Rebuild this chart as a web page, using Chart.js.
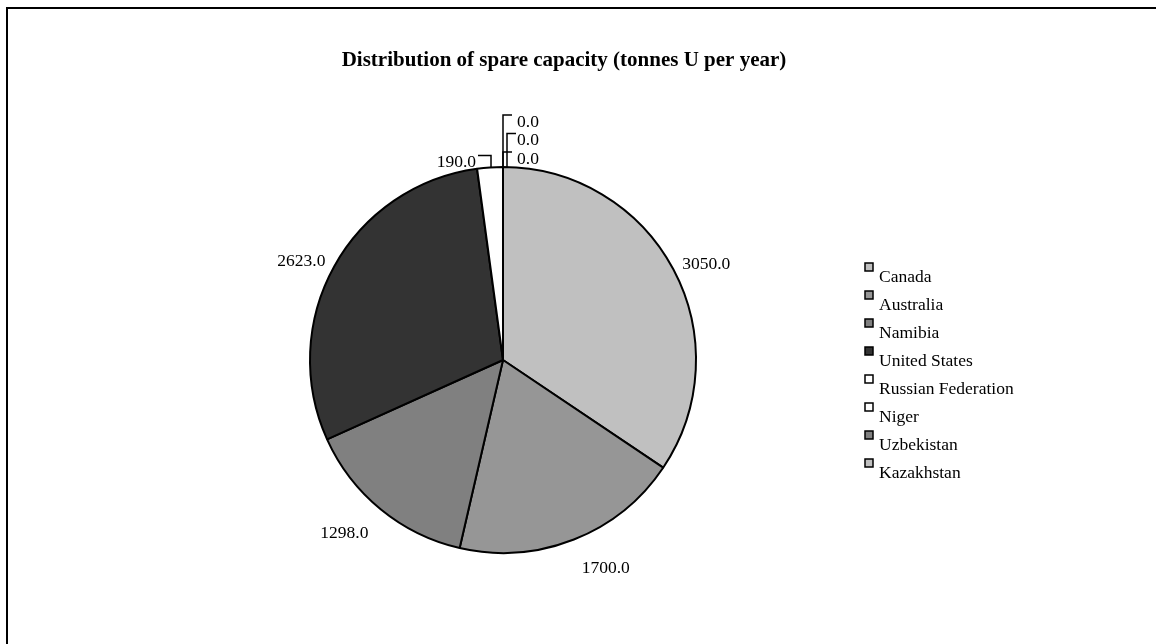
<!DOCTYPE html>
<html>
<head>
<meta charset="utf-8">
<title>Distribution of spare capacity</title>
<script src="https://cdn.jsdelivr.net/npm/chart.js@4.4.1/dist/chart.umd.min.js"></script>
<style>
  html, body { margin: 0; padding: 0; background: #fff; }
  #wrap { position: relative; width: 1156px; height: 644px; overflow: hidden; }
  #frame { position: absolute; left: 6px; top: 7px; width: 1300px; height: 800px;
           border-top: 2px solid #000; border-left: 2px solid #000; pointer-events: none; }
</style>
</head>
<body>
<div id="wrap">
  <canvas id="pie" width="1156" height="644"></canvas>
  <div id="frame"></div>
</div>
<script>
// spare capacity by country, tonnes U per year
const countries = ['Canada', 'Australia', 'Namibia', 'United States', 'Russian Federation', 'Niger', 'Uzbekistan', 'Kazakhstan'];
const capacity = [3050, 1700, 1298, 2623, 190, 0, 0, 0];
const sliceColours = ['#c0c0c0', '#969696', '#808080', '#333333', '#ffffff', '#ffffff', '#808080', '#c0c0c0'];

const serif = '"Liberation Serif", "Times New Roman", serif';

// values outside the pie, small slices get a leader line
const sliceLabels = {
  id: 'sliceLabels',
  afterDatasetsDraw(chart) {
    const ctx = chart.ctx;
    const arcs = chart.getDatasetMeta(0).data;
    const total = capacity.reduce((a, b) => a + b, 0);
    ctx.save();
    ctx.font = '17.5px ' + serif;
    ctx.fillStyle = '#000';
    ctx.strokeStyle = '#000';
    ctx.lineWidth = 1.5;
    let stack = 0;
    arcs.forEach((arc, i) => {
      const p = arc.getProps(['x', 'y', 'startAngle', 'endAngle', 'outerRadius'], true);
      const mid = (p.startAngle + p.endAngle) / 2;
      const c = Math.cos(mid), s = Math.sin(mid);
      const txt = capacity[i].toFixed(1);
      const ex = p.x + c * p.outerRadius;
      const ey = p.y + s * p.outerRadius;
      if (capacity[i] / total > 0.05) {
        const off = 10 + 12 * Math.max(0, s);
        ctx.textAlign = c >= 0 ? 'left' : 'right';
        ctx.textBaseline = s > 0.6 ? 'top' : 'middle';
        ctx.fillText(txt, p.x + c * (p.outerRadius + off), p.y + s * (p.outerRadius + off));
      } else if (capacity[i] > 0) {
        // small slice: hook to the left
        const hy = ey - 12;
        ctx.beginPath();
        ctx.moveTo(ex + 1, ey);
        ctx.lineTo(ex + 1, hy);
        ctx.lineTo(ex - 12, hy);
        ctx.stroke();
        ctx.textAlign = 'right';
        ctx.textBaseline = 'middle';
        ctx.fillText(txt, ex - 14, hy + 7);
      } else {
        // empty slices stacked upwards, hooks to the right
        const hy = ey - 15 - stack * 18.5;
        const vx = ex + (stack === 1 ? 4 : 0);
        ctx.beginPath();
        ctx.moveTo(vx, ey);
        ctx.lineTo(vx, hy);
        ctx.lineTo(vx + 9, hy);
        ctx.stroke();
        ctx.textAlign = 'left';
        ctx.textBaseline = 'middle';
        ctx.fillText(txt, ex + 14, hy + 7);
        stack++;
      }
    });
    ctx.restore();
  }
};

// title and the boxed legend on the right
const extras = {
  id: 'extras',
  afterDraw(chart) {
    const ctx = chart.ctx;
    ctx.save();
    ctx.fillStyle = '#000';
    ctx.font = 'bold 21px ' + serif;
    ctx.textAlign = 'center';
    ctx.textBaseline = 'alphabetic';
    ctx.fillText('Distribution of spare capacity (tonnes U per year)', 564, 66);

    ctx.font = '17.5px ' + serif;
    ctx.textAlign = 'left';
    countries.forEach((name, i) => {
      const by = 263 + i * 28;
      ctx.fillStyle = sliceColours[i];
      ctx.fillRect(865, by, 8, 8);
      ctx.strokeStyle = '#000';
      ctx.lineWidth = 1.5;
      ctx.strokeRect(865, by, 8, 8);
      ctx.fillStyle = '#000';
      ctx.fillText(name, 879, by + 19);
    });
    ctx.restore();
  }
};

new Chart(document.getElementById('pie'), {
  type: 'pie',
  data: {
    labels: countries,
    datasets: [{
      data: capacity,
      backgroundColor: sliceColours,
      borderColor: '#000',
      borderWidth: 2
    }]
  },
  options: {
    responsive: false,
    animation: false,
    layout: { padding: { left: 309, top: 166, right: 459, bottom: 90 } },
    plugins: {
      legend: { display: false },
      tooltip: { enabled: false },
      title: { display: false }
    }
  },
  plugins: [sliceLabels, extras]
});
</script>
</body>
</html>
